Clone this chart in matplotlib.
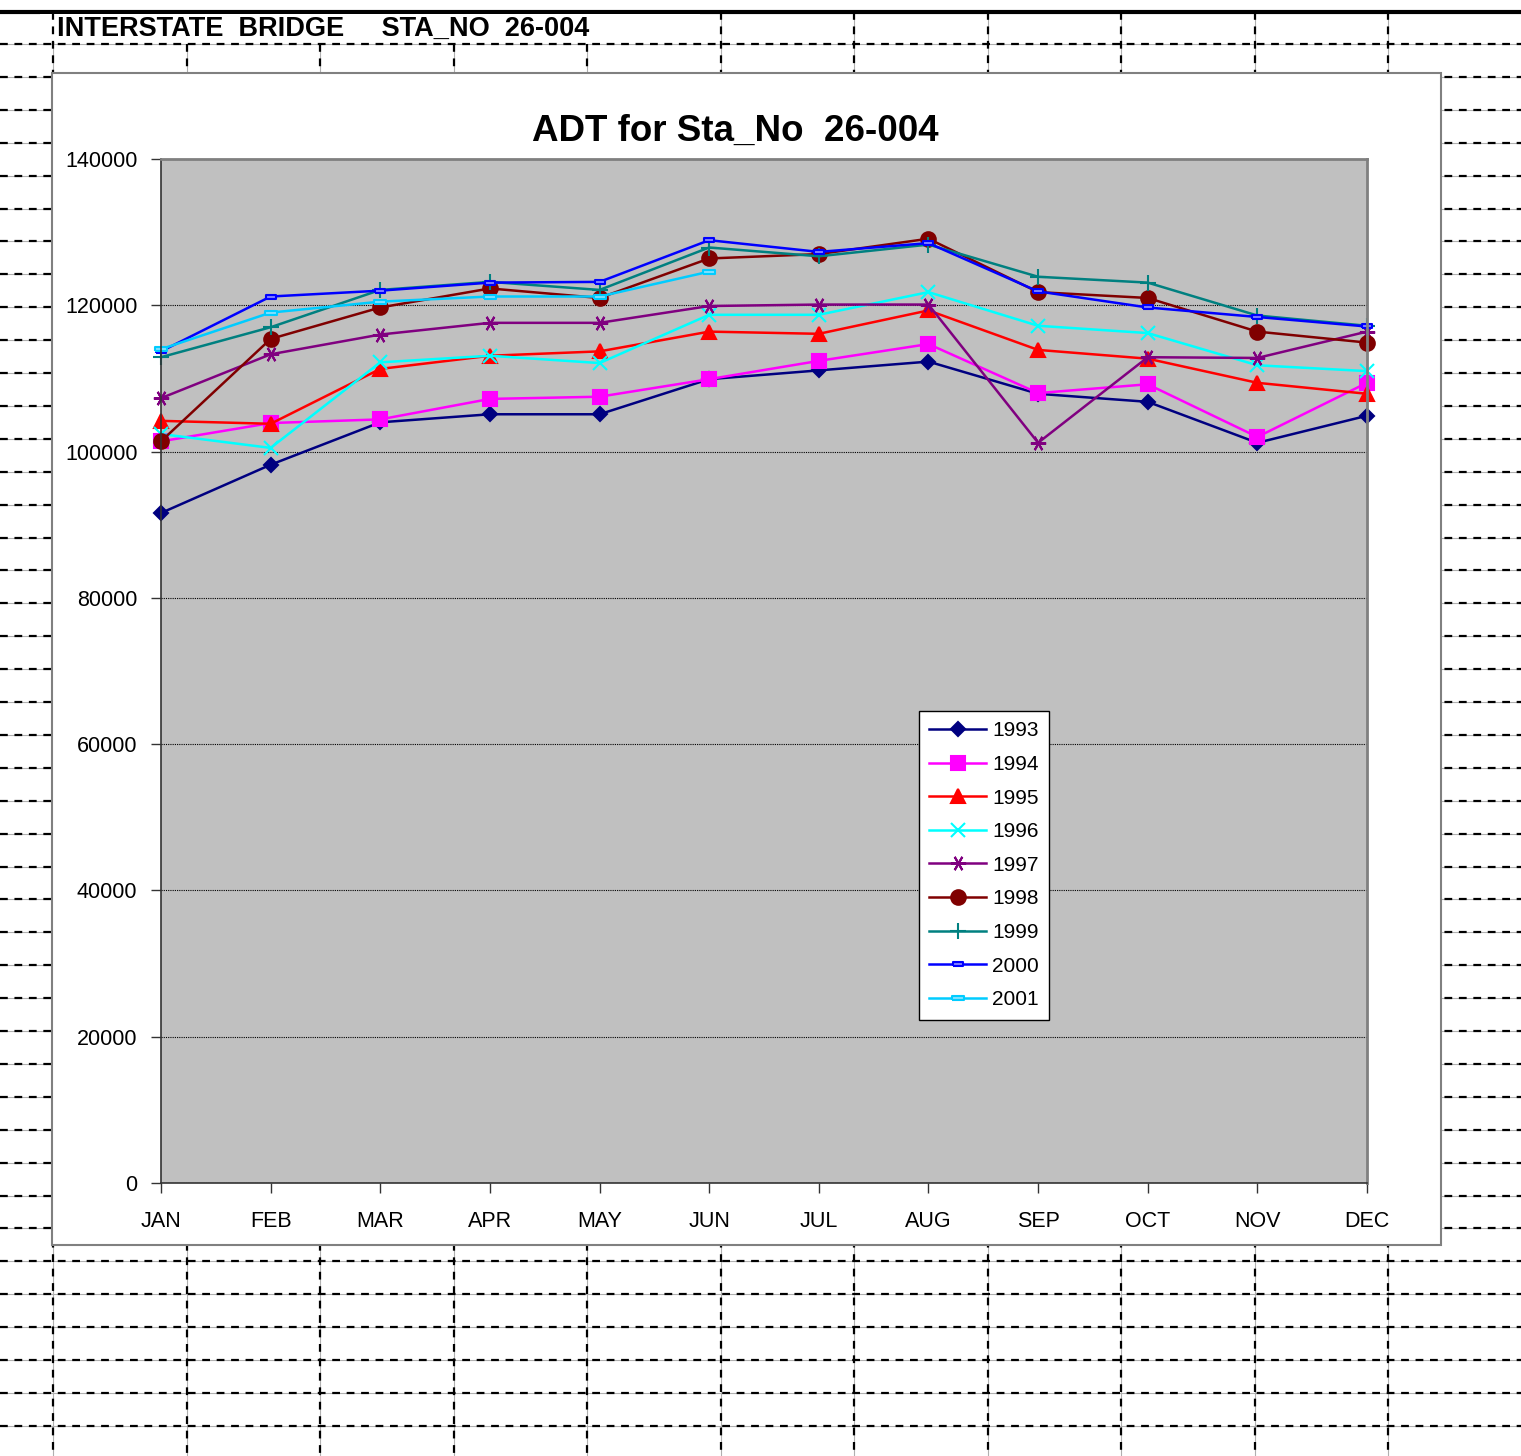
import numpy as np
import matplotlib.pyplot as plt
from matplotlib.patches import Rectangle
from matplotlib.path import Path

plt.rcParams['font.family'] = ['Liberation Sans', 'DejaVu Sans']

# ---- data ----
months = ['JAN', 'FEB', 'MAR', 'APR', 'MAY', 'JUN', 'JUL', 'AUG', 'SEP', 'OCT', 'NOV', 'DEC']
years = ['1993', '1994', '1995', '1996', '1997', '1998', '1999', '2000', '2001']

adt_1993 = [91600, 98200, 104000, 105100, 105100, 109900, 111100, 112300, 107900, 106800, 101200, 104900]
adt_1994 = [101400, 103900, 104400, 107200, 107500, 109900, 112400, 114700, 108000, 109200, 102000, 109400]
adt_1995 = [104200, 103800, 111300, 113100, 113700, 116400, 116100, 119300, 113900, 112700, 109400, 107900]
adt_1996 = [102400, 100500, 112200, 113100, 112100, 118700, 118700, 121800, 117200, 116200, 111800, 111000]
adt_1997 = [107300, 113300, 116000, 117600, 117600, 119900, 120100, 120100, 101200, 112900, 112800, 116400]
adt_1998 = [101400, 115400, 119700, 122300, 121000, 126400, 127000, 129100, 121800, 121000, 116400, 114900]
adt_1999 = [112900, 117000, 122100, 123200, 122100, 127900, 126700, 128300, 123900, 123100, 118600, 117200]
adt_2000 = [113700, 121200, 122000, 123100, 123200, 128900, 127300, 128500, 121900, 119700, 118400, 117100]
adt_2001 = [114000, 119000, 120500, 121200, 121200, 124600, np.nan, np.nan, np.nan, np.nan, np.nan, np.nan]

series = [adt_1993, adt_1994, adt_1995, adt_1996, adt_1997, adt_1998, adt_1999, adt_2000, adt_2001]

# ---- styles ----
small_rect = Path([(-1, -0.45), (1, -0.45), (1, 0.45), (-1, 0.45), (-1, -0.45)])
wide_rect = Path([(-1, -0.3), (1, -0.3), (1, 0.3), (-1, 0.3), (-1, -0.3)])
colors = ['#000080', '#FF00FF', '#FF0000', '#00FFFF', '#800080', '#800000', '#008080', '#0000FF', '#00CCFF']
markers = ['D', 's', '^', 'x', (6, 2, 90), 'o', '+', small_rect, wide_rect]
msizes = [7, 10, 10, 10, 11, 10.5, 11, 7, 9]
mfaces = [None, None, None, None, None, None, None, '#8080FF', '#80E0FF']

W, H = 1521, 1456
fig = plt.figure(figsize=(W / 100, H / 100), dpi=100)

# spreadsheet background (pixel coords)
bg = fig.add_axes([0, 0, 1, 1])
bg.set_xlim(0, W)
bg.set_ylim(H, 0)
bg.axis('off')

row_step = 32.9
col_step = 133.5
rows = 44 + row_step * np.arange(43)
cols = 53 + col_step * np.arange(11)
for y in rows:
    bg.plot([0, W], [y, y], color='#B0B0B0', lw=0.8, zorder=1)
    bg.plot([0, W], [y, y], color='black', lw=1.6, ls=(0, (3.5, 3)), zorder=2)
for x in cols:
    y0 = 12 if (x < 60 or x > 700) else 44
    bg.plot([x, x], [y0, H], color='#B0B0B0', lw=0.8, zorder=1)
    bg.plot([x, x], [y0, H], color='black', lw=1.6, ls=(0, (3.5, 3)), zorder=2)
bg.plot([0, W], [12, 12], color='black', lw=3, zorder=3)
bg.add_patch(Rectangle((40, 14), 660, 28, facecolor='white', edgecolor='none', zorder=3))
bg.plot([53, 53], [12, 44], color='black', lw=1.6, ls=(0, (3.5, 3)), zorder=4)
bg.text(57, 29, 'INTERSTATE  BRIDGE     STA_NO  26-004', fontsize=19.5, fontweight='bold',
        va='center', ha='left', zorder=5)

# chart area
bg.add_patch(Rectangle((52, 73), 1441 - 52, 1245 - 73, facecolor='white',
                       edgecolor='#808080', lw=1.5, zorder=6))
bg.text(735, 131, 'ADT for Sta_No  26-004', fontsize=26.5, fontweight='bold',
        ha='center', va='center', zorder=7)

ax = fig.add_axes([161 / W, 1 - 1183 / H, (1367 - 161) / W, (1183 - 159) / H])
ax.set_facecolor('#C0C0C0')
x = np.arange(len(months))
for vals, yr, c, m, ms, mf in zip(series, years, colors, markers, msizes, mfaces):
    ax.plot(x, vals, color=c, lw=1.8, marker=m, markersize=ms,
            markerfacecolor=mf if mf else c, markeredgecolor=c,
            markeredgewidth=1.5, label=yr, clip_on=False)

ax.set_xlim(0, 11)
ax.set_ylim(0, 140000)
ax.set_yticks(np.arange(0, 140001, 20000))
ax.set_xticks(x)
ax.set_xticklabels(months)
ax.tick_params(axis='both', direction='out', length=7, width=1, labelsize=15.5, color='#333333')
ax.tick_params(axis='x', pad=13)
ax.tick_params(axis='y', pad=10)
ax.grid(axis='y', color='black', ls=(0, (1, 1)), lw=0.8)
ax.set_axisbelow(True)
for s in ['left', 'bottom']:
    ax.spines[s].set_color('#333333')
    ax.spines[s].set_linewidth(1.2)
for s in ['top', 'right']:
    ax.spines[s].set_color('#808080')
    ax.spines[s].set_linewidth(2)

leg = ax.legend(loc='upper left', bbox_to_anchor=(919 / W, 1 - 711 / H),
                bbox_transform=fig.transFigure, fontsize=15, frameon=True,
                fancybox=False, edgecolor='black', framealpha=1, borderaxespad=0,
                handlelength=2.7, labelspacing=0.7, borderpad=0.5, handletextpad=0.3)
leg.get_frame().set_linewidth(1)

fig.savefig('out.png', dpi=100)
